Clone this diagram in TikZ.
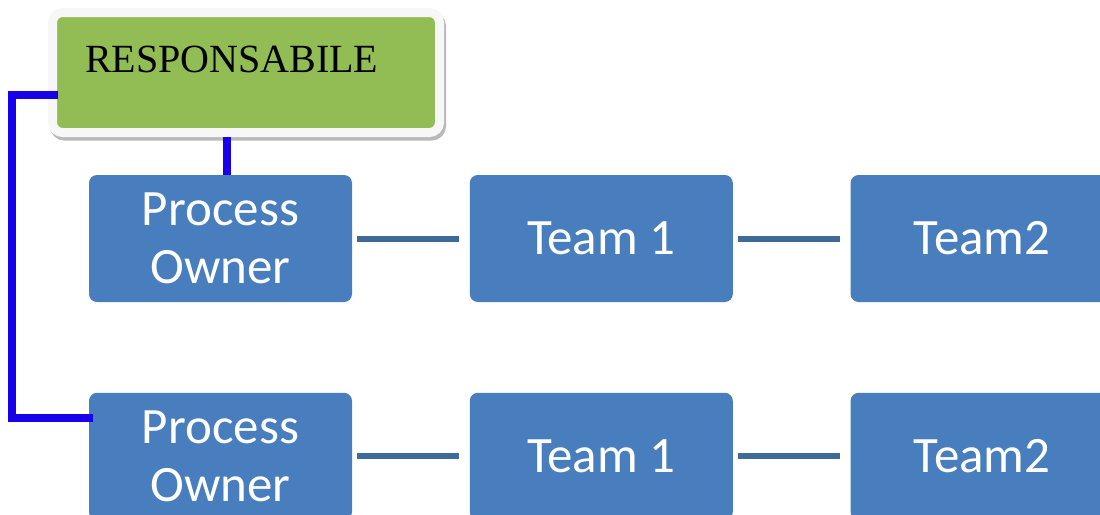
\documentclass[tikz,border=0pt]{standalone}
\usepackage{fontspec}
\usepackage{xcolor}
\usepackage{tikz}
\usetikzlibrary{positioning,calc}
\setmainfont{Liberation Serif}
\newfontfamily\calibri{Carlito}
\definecolor{boxblue}{RGB}{72,126,189}
\definecolor{linkblue}{RGB}{62,106,152}
\definecolor{tieblue}{RGB}{25,0,235}
\definecolor{headgreen}{RGB}{146,189,84}

\begin{document}
\begin{tikzpicture}[
    x=0.5pt, y=-0.5pt,
    node distance=58.5pt,
    unit/.style={rectangle, rounded corners=4pt, fill=boxblue, text=white, minimum width=131.5pt, minimum height=63.5pt, inner sep=0pt, align=center, font=\calibri\fontsize{25.5}{29}\selectfont},
    head/.style={rectangle, rounded corners=5pt, fill=headgreen, draw=gray!6, line width=4.5pt, minimum width=193.5pt, minimum height=60pt, text width=161pt, align=left, text height=12pt, text depth=12pt, font=\fontsize{20}{24}\selectfont, preaction={draw=gray!55, fill=gray!55, transform canvas={shift={(1pt,-1.8pt)}}}},
    link/.style={draw=linkblue, line width=3pt, shorten <=2.5pt, shorten >=5pt},
    tie/.style={draw=tieblue, line width=4pt}
]
    \fill[white] (0,0) rectangle (1100,515);
    \useasboundingbox (0,0) rectangle (1100,515);
    \clip (0,0) rectangle (1100,515);

    \node[head] (resp) at (246,72.5) {RESPONSABILE};

    \node[unit] (po1) at (220.5,238.5) {Process\\Owner};
    \node[unit, right=of po1] (t1a) {Team 1};
    \node[unit, right=of t1a] (t2a) {Team2};
    \node[unit, below=45pt of po1] (po2) {Process\\Owner};
    \node[unit, right=of po2] (t1b) {Team 1};
    \node[unit, right=of t1b] (t2b) {Team2};

    \draw[link] (po1) -- (t1a);
    \draw[link] (t1a) -- (t2a);
    \draw[link] (po2) -- (t1b);
    \draw[link] (t1b) -- (t2b);

    \draw[tie] ([xshift=3pt]po1.north) -- ([xshift=3pt]po1.north |- resp.south);
    \draw[tie] ([shift={(5pt,-11.25pt)}]resp.west) -- ++(-46,0) |- ([shift={(2pt,-13pt)}]po2.north west);
\end{tikzpicture}
\end{document}
